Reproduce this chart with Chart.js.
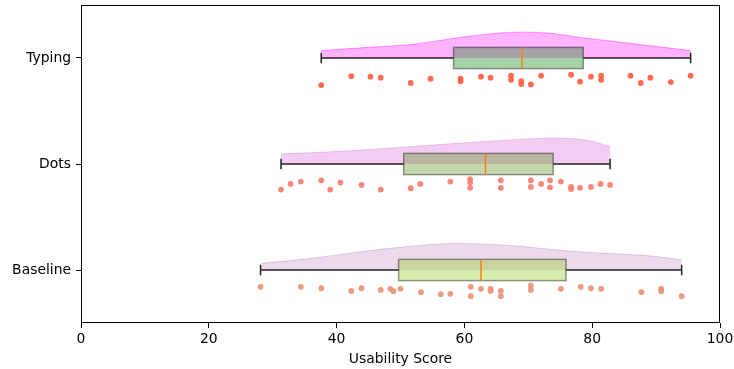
<!DOCTYPE html>
<html>
<head>
<meta charset="utf-8">
<script src="https://cdn.jsdelivr.net/npm/chart.js@4.4.1/dist/chart.umd.min.js"></script>
<style>
html,body{margin:0;padding:0;background:#fff;}
#wrap{width:734px;height:369px;position:relative;}
</style>
</head>
<body>
<div id="wrap"><canvas id="c"></canvas></div>
<script>
// ---- data ----
const categories = ['Baseline', 'Dots', 'Typing'];
const catPos = [0, 1, 2];
const xTicks = [0, 20, 40, 60, 80, 100];

const typingScores = [37.6,42.3,45.3,46.9,51.6,54.7,59.4,59.4,62.6,64.1,67.3,67.3,68.9,68.9,70.4,72.0,76.7,78.1,79.8,81.4,81.4,86.0,87.6,89.1,92.3,95.4];
const typingJitter = [0.255,0.171,0.176,0.186,0.236,0.195,0.195,0.220,0.176,0.186,0.167,0.205,0.218,0.246,0.249,0.167,0.158,0.223,0.176,0.167,0.205,0.167,0.236,0.186,0.227,0.167];

const dotsScores = [31.3,32.8,34.4,37.6,39.0,40.6,43.9,46.9,51.6,53.1,57.8,60.9,60.9,60.9,65.7,65.7,70.4,70.4,72.0,73.4,73.4,75.1,76.7,76.7,78.1,79.8,81.3,82.8];
const dotsJitter = [0.241,0.188,0.166,0.154,0.241,0.175,0.197,0.241,0.229,0.188,0.166,0.144,0.175,0.225,0.154,0.225,0.154,0.216,0.188,0.154,0.220,0.166,0.216,0.235,0.225,0.216,0.188,0.197];

const baselineScores = [28.1,34.4,37.6,42.3,43.9,46.9,48.4,48.9,50.0,53.2,56.3,57.8,61.0,61.0,62.6,64.1,64.1,65.7,65.7,70.4,70.4,75.1,78.2,79.8,81.4,87.7,90.8,90.8,94.0];
const baselineJitter = [0.159,0.159,0.172,0.197,0.172,0.188,0.178,0.200,0.178,0.209,0.228,0.225,0.159,0.247,0.178,0.178,0.197,0.197,0.247,0.146,0.188,0.178,0.159,0.172,0.178,0.209,0.178,0.200,0.247];

// half-violin outlines (score, density height)
const typingKdeX = [37.6,44.4,52.3,57.5,62.7,69.0,73.1,78.4,83.6,88.8,95.4];
const typingKdeH = [0.070,0.098,0.131,0.178,0.220,0.244,0.235,0.192,0.155,0.117,0.070];
const dotsKdeX = [31.3,40.0,50.4,63.3,73.9,79.1,82.8];
const dotsKdeH = [0.094,0.118,0.159,0.212,0.244,0.225,0.165];
const baselineKdeX = [28.2,35.1,42.9,50.7,58.5,63.7,69.0,74.2,79.4,84.6,89.8,94.0];
const baselineKdeH = [0.063,0.103,0.166,0.219,0.250,0.244,0.222,0.190,0.166,0.150,0.129,0.094];

// box statistics per category (Baseline, Dots, Typing)
const boxMin    = [28.1, 31.3, 37.6];
const boxQ1     = [49.7, 50.5, 58.3];
const boxMedian = [62.6, 63.3, 69.0];
const boxQ3     = [75.9, 73.9, 78.6];
const boxMax    = [94.0, 82.8, 95.4];

// ---- styles ----
const violinFill = ['rgba(128,0,128,0.15)', 'rgba(218,112,214,0.35)', 'rgba(255,0,255,0.30)'];
const violinEdge = ['rgba(128,0,128,0.18)', 'rgba(218,112,214,0.4)', 'rgba(255,0,255,0.4)'];
const boxFill = ['rgba(154,205,50,0.40)', 'rgba(85,140,20,0.35)', 'rgba(0,128,0,0.35)'];
const pointColors = ['rgba(233,150,122,0.95)', 'rgba(250,128,114,0.95)', 'rgba(255,99,71,0.95)'];
const BOX_HALF = 0.1;

function violinData(xs, hs, base){ return xs.map((x,i)=>({x:x, y:base + hs[i]})); }
function pointData(xs, js, base){ return xs.map((x,i)=>({x:x, y:base - js[i]})); }

const kdeX = [baselineKdeX, dotsKdeX, typingKdeX];
const kdeH = [baselineKdeH, dotsKdeH, typingKdeH];
const scores = [baselineScores, dotsScores, typingScores];
const jitters = [baselineJitter, dotsJitter, typingJitter];

const datasets = [];
for (let i=0;i<3;i++){
  datasets.push({
    type:'line',
    data: violinData(kdeX[i], kdeH[i], catPos[i]),
    fill: {value: catPos[i]},
    backgroundColor: violinFill[i],
    borderColor: violinEdge[i],
    borderWidth: 1,
    pointRadius: 0,
    cubicInterpolationMode: 'monotone',
    order: 2
  });
}
for (let i=0;i<3;i++){
  datasets.push({
    type:'scatter',
    data: pointData(scores[i], jitters[i], catPos[i]),
    backgroundColor: pointColors[i],
    borderWidth: 0,
    pointRadius: 2.9,
    order: 1
  });
}

const boxPlugin = {
  id:'boxes',
  afterDatasetsDraw(chart){
    const ctx = chart.ctx, xs = chart.scales.x, ys = chart.scales.y;
    ctx.save();
    for (let i=0;i<3;i++){
      const yc = ys.getPixelForValue(catPos[i]);
      const half = Math.abs(ys.getPixelForValue(catPos[i]+BOX_HALF) - yc);
      const pMin = xs.getPixelForValue(boxMin[i]);
      const pQ1 = xs.getPixelForValue(boxQ1[i]);
      const pMed = xs.getPixelForValue(boxMedian[i]);
      const pQ3 = xs.getPixelForValue(boxQ3[i]);
      const pMax = xs.getPixelForValue(boxMax[i]);
      ctx.strokeStyle = '#222';
      ctx.lineWidth = 1.5;
      ctx.beginPath();
      ctx.moveTo(pMin, yc); ctx.lineTo(pQ1, yc);
      ctx.moveTo(pQ3, yc); ctx.lineTo(pMax, yc);
      ctx.moveTo(pMin, yc-half/2); ctx.lineTo(pMin, yc+half/2);
      ctx.moveTo(pMax, yc-half/2); ctx.lineTo(pMax, yc+half/2);
      ctx.stroke();
      ctx.fillStyle = boxFill[i];
      ctx.fillRect(pQ1, yc-half, pQ3-pQ1, 2*half);
      ctx.strokeStyle = 'rgba(0,0,0,0.4)';
      ctx.lineWidth = 1.5;
      ctx.strokeRect(pQ1, yc-half, pQ3-pQ1, 2*half);
      ctx.strokeStyle = '#ff7f0e';
      ctx.lineWidth = 1.5;
      ctx.beginPath();
      ctx.moveTo(pMed, yc-half); ctx.lineTo(pMed, yc+half);
      ctx.stroke();
    }
    ctx.restore();
  },
  afterDraw(chart){
    const a = chart.chartArea, ctx = chart.ctx;
    ctx.save();
    ctx.strokeStyle = '#000';
    ctx.lineWidth = 1;
    ctx.strokeRect(Math.round(a.left)+0.5, Math.round(a.top)+0.5, Math.round(a.right-a.left)-1, Math.round(a.bottom-a.top)-1);
    ctx.restore();
  }
};

const FONT = {family:'"DejaVu Sans", sans-serif', size:13.9};

new Chart(document.getElementById('c'), {
  type:'scatter',
  data:{datasets},
  plugins:[boxPlugin],
  options:{
    responsive:true,
    maintainAspectRatio:false,
    animation:false,
    devicePixelRatio:1,
    layout:{padding:{top:5, right:14, left:0, bottom:0}},
    plugins:{legend:{display:false}, tooltip:{enabled:false}},
    scales:{
      x:{
        type:'linear', min:0, max:100,
        afterBuildTicks(s){ s.ticks = xTicks.map(v=>({value:v})); },
        afterFit(s){ s.height = 46; s.paddingLeft = 0; s.paddingRight = 0; },
        ticks:{font:FONT, color:'#000', padding:3, maxRotation:0},
        grid:{display:true, drawOnChartArea:false, drawTicks:true, tickLength:5, color:'#000', tickWidth:1},
        border:{display:false},
        title:{display:true, text:'Usability Score', font:FONT, color:'#000', padding:{top:2, bottom:1}}
      },
      y:{
        type:'linear', min:-0.5, max:2.5,
        afterBuildTicks(s){ s.ticks = catPos.map(v=>({value:v})); },
        afterFit(s){ s.width = 81; s.paddingTop = 0; s.paddingBottom = 0; },
        ticks:{font:FONT, color:'#000', padding:5, callback:(v)=>categories[catPos.indexOf(v)]},
        grid:{display:true, drawOnChartArea:false, drawTicks:true, tickLength:5, color:'#000', tickWidth:1},
        border:{display:false}
      }
    }
  }
});
</script>
</body>
</html>
